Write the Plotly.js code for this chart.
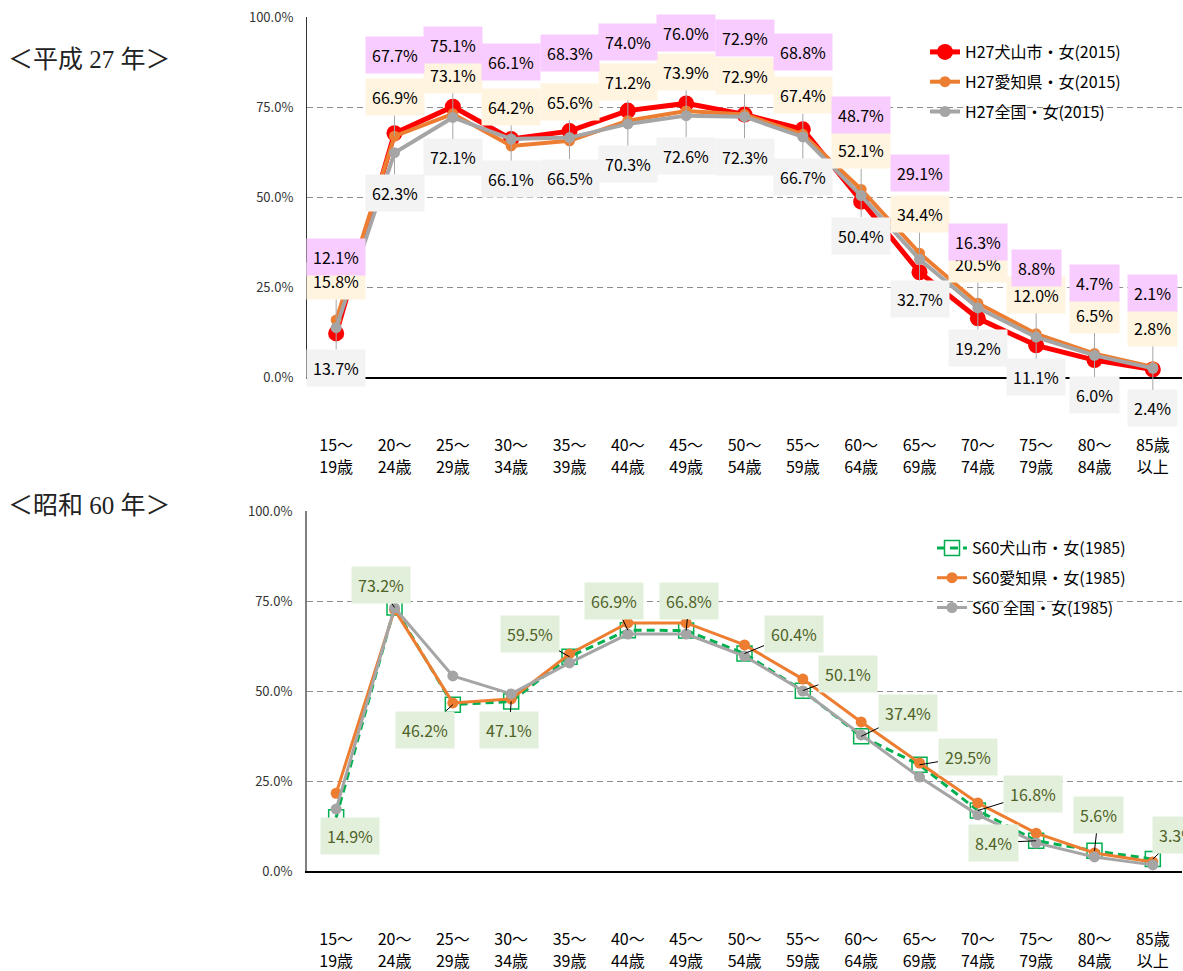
<!DOCTYPE html>
<html>
<head>
<meta charset="utf-8">
<script src="https://cdn.plot.ly/plotly-3.0.1.min.js"></script>
<style>html,body{margin:0;padding:0;background:#fff;}#chart{width:1183px;height:971px;}</style>
</head>
<body>
<div id="chart"></div>
<script>
// ---- data ----
const categories = ['15～<br>19歳','20～<br>24歳','25～<br>29歳','30～<br>34歳','35～<br>39歳','40～<br>44歳','45～<br>49歳','50～<br>54歳','55～<br>59歳','60～<br>64歳','65～<br>69歳','70～<br>74歳','75～<br>79歳','80～<br>84歳','85歳<br>以上'];
const yTicks = [0, 25, 50, 75, 100];
const yTickText = yTicks.map(v => v.toFixed(1) + '%');

const h27InuyamaName = 'H27犬山市・女(2015)';
const h27AichiName = 'H27愛知県・女(2015)';
const h27ZenkokuName = 'H27全国・女(2015)';
const h27Inuyama = [12.1, 67.7, 75.1, 66.1, 68.3, 74.0, 76.0, 72.9, 68.8, 48.7, 29.1, 16.3, 8.8, 4.7, 2.1];
const h27Aichi   = [15.8, 66.9, 73.1, 64.2, 65.6, 71.2, 73.9, 72.9, 67.4, 52.1, 34.4, 20.5, 12.0, 6.5, 2.8];
const h27Zenkoku = [13.7, 62.3, 72.1, 66.1, 66.5, 70.3, 72.6, 72.3, 66.7, 50.4, 32.7, 19.2, 11.1, 6.0, 2.4];

const s60InuyamaName = 'S60犬山市・女(1985)';
const s60AichiName = 'S60愛知県・女(1985)';
const s60ZenkokuName = 'S60 全国・女(1985)';
const s60Inuyama = [14.9, 73.2, 46.2, 47.1, 59.5, 66.9, 66.8, 60.4, 50.1, 37.4, 29.5, 16.8, 8.4, 5.6, 3.3];
const s60Aichi   = [21.6, 72.6, 46.7, 47.8, 60.3, 68.9, 68.9, 62.8, 53.3, 41.4, 30.0, 18.9, 10.5, 5.0, 2.5];
const s60Zenkoku = [17.2, 73.1, 54.2, 49.2, 57.8, 65.8, 65.8, 59.7, 50.0, 37.8, 26.1, 15.6, 7.8, 3.9, 1.7];

// ---- label placement (pixel offsets, layout only) ----
const pinkDy  = [-76,-78,-62,-77,-78,-69,-70,-77,-77,-87,-99,-76,-77,-77,-76];
const creamDy = -39;
const greyDy  = 40;
const greenDx = [14,-14,-28,-2,-40,-14,3,49,45,47,48,55,-43,4,25];
const greenDy = [19,-22,25,29,-23,-29,-30,-20,-17,-23,-8,-17,2,-36,-24];

// ---- geometry ----
const W = 1183, H = 971;
const M = {l: 307, r: 1, t: 17, b: 100};
const plotW = W - M.l - M.r, plotH = H - M.t - M.b;
const px2paperX = px => (px - M.l) / plotW;
const px2paperY = py => (H - M.b - py) / plotH;

const FONT = '"Noto Sans CJK JP", "Noto Sans", sans-serif';
const fmt = v => v.toFixed(1) + '%';
const idx = categories.map((c, i) => i);
const line1 = categories.map(c => c.split('<br>')[0]);
const line2 = categories.map(c => c.split('<br>')[1]);
const blank = idx.map(() => null);

const traces = [
  {x: idx, y: h27Inuyama, name: h27InuyamaName, xaxis: 'x', yaxis: 'y', mode: 'lines+markers', legend: 'legend', legendgroup: 'a',
   line: {color: '#FF0000', width: 5}, marker: {color: '#FF0000', size: 16}},
  {x: idx, y: h27Aichi, name: h27AichiName, xaxis: 'x', yaxis: 'y', mode: 'lines+markers', legend: 'legend', legendgroup: 'b',
   line: {color: '#ED7D31', width: 4}, marker: {color: '#ED7D31', size: 11}},
  {x: idx, y: h27Zenkoku, name: h27ZenkokuName, xaxis: 'x', yaxis: 'y', mode: 'lines+markers', legend: 'legend', legendgroup: 'c',
   line: {color: '#A5A5A5', width: 4}, marker: {color: '#A5A5A5', size: 11}},
  {x: idx, y: s60Inuyama, name: s60InuyamaName, xaxis: 'x2', yaxis: 'y2', mode: 'lines+markers', legend: 'legend2', legendgroup: 'd',
   line: {color: '#00B050', width: 3, dash: '8px,5px'}, marker: {symbol: 'square-open', color: '#00B050', size: 15, line: {width: 1.5}}},
  {x: idx, y: s60Aichi, name: s60AichiName, xaxis: 'x2', yaxis: 'y2', mode: 'lines+markers', legend: 'legend2', legendgroup: 'e',
   line: {color: '#ED7D31', width: 3}, marker: {color: '#ED7D31', size: 11}},
  {x: idx, y: s60Zenkoku, name: s60ZenkokuName, xaxis: 'x2', yaxis: 'y2', mode: 'lines+markers', legend: 'legend2', legendgroup: 'f',
   line: {color: '#A5A5A5', width: 3}, marker: {color: '#A5A5A5', size: 11}},
  // empty helpers so that the second-line category axes are drawn
  {x: idx, y: blank, xaxis: 'x3', yaxis: 'y', mode: 'lines', showlegend: false, hoverinfo: 'skip'},
  {x: idx, y: blank, xaxis: 'x4', yaxis: 'y2', mode: 'lines', showlegend: false, hoverinfo: 'skip'}
];

const annotations = [];
const labelFont = {family: FONT, size: 16, color: '#000'};
// cream (Aichi) labels
h27Aichi.forEach((v, i) => annotations.push({
  xref: 'x', yref: 'y', x: i, y: v, text: fmt(v), showarrow: true, ax: 0, ay: creamDy,
  arrowhead: 0, arrowwidth: 1, arrowcolor: '#A6A6A6', standoff: 0,
  bgcolor: '#FFF4DF', borderpad: 6, font: labelFont
}));
// grey (national) labels
h27Zenkoku.forEach((v, i) => annotations.push({
  xref: 'x', yref: 'y', x: i, y: v, text: fmt(v), showarrow: true, ax: 0, ay: greyDy,
  arrowhead: 0, arrowwidth: 1, arrowcolor: '#A6A6A6', standoff: 0,
  bgcolor: '#F3F3F3', borderpad: 6, font: labelFont
}));
// pink (Inuyama) labels
h27Inuyama.forEach((v, i) => annotations.push({
  xref: 'x', yref: 'y', x: i, y: v, text: fmt(v), showarrow: false, yshift: -pinkDy[i],
  bgcolor: '#F9CCFF', borderpad: 6, font: labelFont
}));
// green (S60 Inuyama) labels
s60Inuyama.forEach((v, i) => annotations.push({
  xref: 'x2', yref: 'y2', x: i, y: v, text: fmt(v), showarrow: true, ax: greenDx[i], ay: greenDy[i],
  arrowhead: 0, arrowwidth: 1, arrowcolor: '#000', standoff: 0,
  bgcolor: '#E2EFDA', borderpad: 6, font: {family: FONT, size: 16, color: '#4F6228'}
}));
// section titles
const titleFont = {family: '"Liberation Serif", "Noto Sans CJK JP", serif', size: 25, color: '#222'};
annotations.push({xref: 'paper', yref: 'paper', x: px2paperX(6), y: px2paperY(60), xanchor: 'left', yanchor: 'middle',
  text: '＜平成 27 年＞', showarrow: false, font: titleFont});
annotations.push({xref: 'paper', yref: 'paper', x: px2paperX(6), y: px2paperY(505), xanchor: 'left', yanchor: 'middle',
  text: '＜昭和 60 年＞', showarrow: false, font: titleFont});

const xTickFont = {family: FONT, size: 16, color: '#000'};
const xCommon = {
  type: 'linear', range: [-0.5, 14.5], tickvals: idx, showgrid: false, zeroline: false, ticks: '',
  tickfont: xTickFont, fixedrange: true
};
const xLine1 = Object.assign({}, xCommon, {ticktext: line1, ticklabelstandoff: 53, showline: true, linecolor: '#000', linewidth: 1.5});
const xLine2 = Object.assign({}, xCommon, {ticktext: line2, ticklabelstandoff: 79, showline: false});
const yCommon = {
  range: [0, 100], tickvals: yTicks, ticktext: yTickText, showgrid: true, gridcolor: '#8C8C8C',
  griddash: '6px,4px', gridwidth: 1, zeroline: false, showline: true, ticks: '', ticklabelstandoff: 10,
  tickfont: {family: FONT, size: 13, color: '#333'}, fixedrange: true
};

const layout = {
  width: W, height: H, margin: M, paper_bgcolor: '#fff', plot_bgcolor: '#fff',
  font: {family: FONT},
  showlegend: true,
  xaxis: Object.assign({}, xLine1, {anchor: 'y', domain: [0, 1]}),
  xaxis3: Object.assign({}, xLine2, {anchor: 'y', overlaying: 'x', domain: [0, 1]}),
  yaxis: Object.assign({}, yCommon, {anchor: 'x', domain: [px2paperY(377), 1], linecolor: '#333', linewidth: 1}),
  xaxis2: Object.assign({}, xLine1, {anchor: 'y2', domain: [0, 1]}),
  xaxis4: Object.assign({}, xLine2, {anchor: 'y2', overlaying: 'x2', domain: [0, 1]}),
  yaxis2: Object.assign({}, yCommon, {anchor: 'x2', domain: [0, px2paperY(511)], linecolor: '#808080', linewidth: 2}),
  legend: {x: px2paperX(925), y: px2paperY(35), xanchor: 'left', yanchor: 'top', bgcolor: 'rgba(0,0,0,0)',
    font: {family: FONT, size: 16, color: '#000'}, traceorder: 'grouped', tracegroupgap: 6},
  legend2: {x: px2paperX(932), y: px2paperY(531), xanchor: 'left', yanchor: 'top', bgcolor: 'rgba(0,0,0,0)',
    font: {family: FONT, size: 16, color: '#000'}, traceorder: 'grouped', tracegroupgap: 6},
  annotations: annotations
};

Plotly.newPlot('chart', traces, layout, {displayModeBar: false, staticPlot: true});
</script>
</body>
</html>
